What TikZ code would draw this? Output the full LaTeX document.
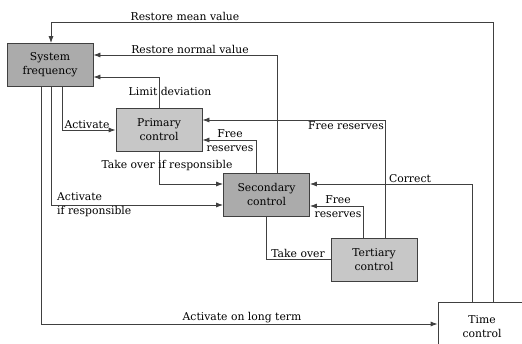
\documentclass[tikz,border=0pt]{standalone}
\usepackage{fontspec}
\setmainfont{DejaVu Serif}
\usetikzlibrary{arrows.meta}

\begin{document}
\begin{tikzpicture}[x=1pt, y=-1pt,
    font=\fontsize{10.8}{14}\selectfont,
    >={Latex[length=7pt,width=5pt]},
    dark/.style={draw=black!75, fill=black!33, line width=0.8pt, minimum width=86pt, minimum height=43pt, align=center, inner sep=0pt},
    light/.style={dark, fill=black!22},
    conn/.style={draw=black!75, line width=0.8pt},
    lbl/.style={inner sep=1pt, align=center}]

    % 画布范围
    \clip (0,0) rectangle (522,343);

    % 控制环节
    \node[dark]  (sysf) at (50,65)    {System\\frequency};
    \node[light] (prim) at (159,129.5) {Primary\\control};
    \node[dark]  (sec)  at (266.5,194.5) {Secondary\\control};
    \node[light] (tert) at (374,259.5) {Tertiary\\control};
    \node[dark, fill=white, minimum width=88pt, minimum height=50pt] (time) at (482,327) {Time\\control};

    % 折点
    \coordinate (meanR) at (493,22);
    \coordinate (meanL) at (51,22);
    \coordinate (normR) at (277,55);
    \coordinate (limT)  at (159,77);
    \coordinate (actB)  at (62,130);
    \coordinate (takeB) at (159,184);
    \coordinate (respB) at (51,205);
    \coordinate (longB) at (41,324);
    \coordinate (frP)   at (256,140);
    \coordinate (frT)   at (385,120);
    \coordinate (corR)  at (472,184);
    \coordinate (frS)   at (363,206);
    \coordinate (tovB)  at (266,259);

    % 反馈到系统频率
    \draw[conn, ->] (time.north -| meanR) -- (meanR) -- (meanL) -- (sysf.north -| meanL);
    \node[lbl, above] at (185,22) {Restore mean value};
    \draw[conn, ->] (sec.north -| normR) -- (normR) -- (sysf.east |- normR);
    \node[lbl, above] at (190,55) {Restore normal value};
    \draw[conn, ->] (prim.north -| limT) -- (limT) -- (sysf.east |- limT);
    \node[lbl] at (170,91) {Limit deviation};

    % 系统频率触发
    \draw[conn, ->] (sysf.south -| actB) -- (actB) -- (prim.west |- actB);
    \node[lbl, above] at (87,130) {Activate};
    \draw[conn, ->] (sysf.south -| respB) -- (respB) -- (sec.west |- respB);
    \node[lbl, right, align=left, inner sep=0pt] at (57,205) {Activate\\if responsible};
    \draw[conn, ->] (sysf.south -| longB) -- (longB) -- (time.west |- longB);
    \node[lbl, above] at (242,324) {Activate on long term};

    % 一次、二次、三次之间
    \draw[conn, ->] (prim.south -| takeB) -- (takeB) -- (sec.west |- takeB);
    \node[lbl] at (167,166) {Take over if responsible};
    \draw[conn, ->] (sec.north -| frP) -- (frP) -- (prim.east |- frP);
    \node[lbl, inner sep=0pt] at (230,141) {Free\\reserves};
    \draw[conn, ->] (tert.north -| frT) -- (frT) -- (prim.east |- frT);
    \node[lbl, below left] at (385,120) {Free reserves};
    \draw[conn, ->] (time.north -| corR) -- (corR) -- (sec.east |- corR);
    \node[lbl, above] at (410,184) {Correct};
    \draw[conn, ->] (tert.north -| frS) -- (frS) -- (sec.east |- frS);
    \node[lbl, inner sep=0pt] at (338,207) {Free\\reserves};
    \draw[conn] (sec.south -| tovB) -- (tovB) -- (tert.west |- tovB);
    \node[lbl, above] at (298,259) {Take over};
\end{tikzpicture}
\end{document}
